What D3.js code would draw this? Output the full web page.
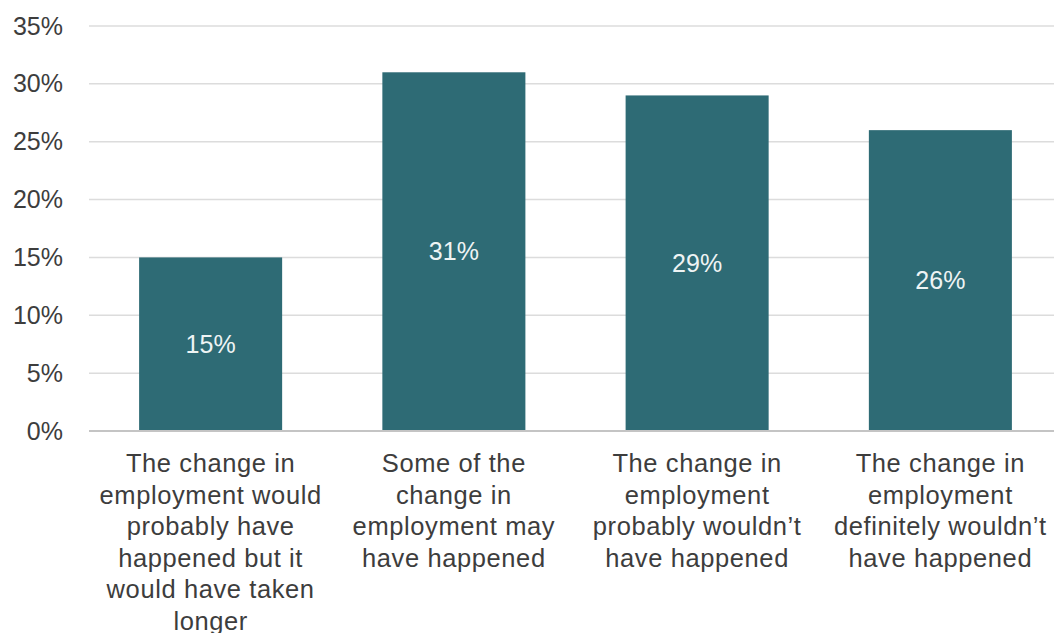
<!DOCTYPE html>
<html>
<head>
<meta charset="utf-8">
<script src="https://cdn.jsdelivr.net/npm/d3@7"></script>
<style>
  html, body { margin: 0; padding: 0; background: #fff; }
  svg { display: block; font-family: "Liberation Sans", Arial, sans-serif; }
</style>
</head>
<body>
<svg id="chart" width="1054" height="633"></svg>
<script>
// Share of respondents by counterfactual view of the change in employment
const categories = [
  ["The change in", "employment would", "probably have", "happened but it", "would have taken", "longer"],
  ["Some of the", "change in", "employment may", "have happened"],
  ["The change in", "employment", "probably wouldn\u2019t", "have happened"],
  ["The change in", "employment", "definitely wouldn\u2019t", "have happened"]
];
const values = [15, 31, 29, 26];
const yTicks = [0, 5, 10, 15, 20, 25, 30, 35];

const svg = d3.select("#chart");
const plotLeft = 89, plotRight = 1062, plotTop = 26, plotBottom = 431;

const x = d3.scaleBand()
  .domain(d3.range(categories.length))
  .range([plotLeft, plotRight])
  .paddingInner(0.412)
  .paddingOuter(0.206);

const y = d3.scaleLinear().domain([0, 35]).range([plotBottom, plotTop]);

// Horizontal gridlines
svg.append("g")
  .selectAll("line")
  .data(yTicks.filter(d => d > 0))
  .join("line")
  .attr("x1", plotLeft).attr("x2", 1054)
  .attr("y1", d => y(d)).attr("y2", d => y(d))
  .attr("stroke", "#dcdcdc").attr("stroke-width", 1.5);

// Y axis labels
const yAxis = d3.axisLeft(y).tickValues(yTicks).tickFormat(d => d + "%").tickSize(0).tickPadding(0);
const gy = svg.append("g").attr("transform", `translate(${plotLeft - 26},0)`).call(yAxis);
gy.select(".domain").remove();
gy.selectAll("text")
  .attr("font-size", 25)
  .attr("fill", "#3d3d3d")
  .attr("font-family", "'Liberation Sans', Arial, sans-serif");

// Bars
svg.append("g")
  .selectAll("rect")
  .data(values)
  .join("rect")
  .attr("x", (d, i) => x(i))
  .attr("width", x.bandwidth())
  .attr("y", d => y(d))
  .attr("height", d => y(0) - y(d))
  .attr("fill", "#2e6b75");

// Value labels inside bars
svg.append("g")
  .selectAll("text")
  .data(values)
  .join("text")
  .attr("x", (d, i) => x(i) + x.bandwidth() / 2)
  .attr("y", d => (y(d) + y(0)) / 2)
  .attr("dy", "0.35em")
  .attr("text-anchor", "middle")
  .attr("font-size", 25)
  .attr("fill", "#eef4f4")
  .text(d => d + "%");

// Baseline
svg.append("line")
  .attr("x1", plotLeft).attr("x2", 1054)
  .attr("y1", y(0)).attr("y2", y(0))
  .attr("stroke", "#c4c4c4").attr("stroke-width", 2);

// Category labels (wrapped)
const cat = svg.append("g")
  .selectAll("text")
  .data(categories)
  .join("text")
  .attr("text-anchor", "middle")
  .attr("font-size", 25.5)
  .attr("letter-spacing", 0.6)
  .attr("fill", "#3d3d3d")
  .attr("x", (d, i) => x(i) + x.bandwidth() / 2)
  .attr("y", 472);
cat.selectAll("tspan")
  .data((d, i) => d.map(t => ({ t, i })))
  .join("tspan")
  .attr("x", d => x(d.i) + x.bandwidth() / 2)
  .attr("dy", (d, j) => j === 0 ? 0 : 31.5)
  .text(d => d.t);
</script>
</body>
</html>
